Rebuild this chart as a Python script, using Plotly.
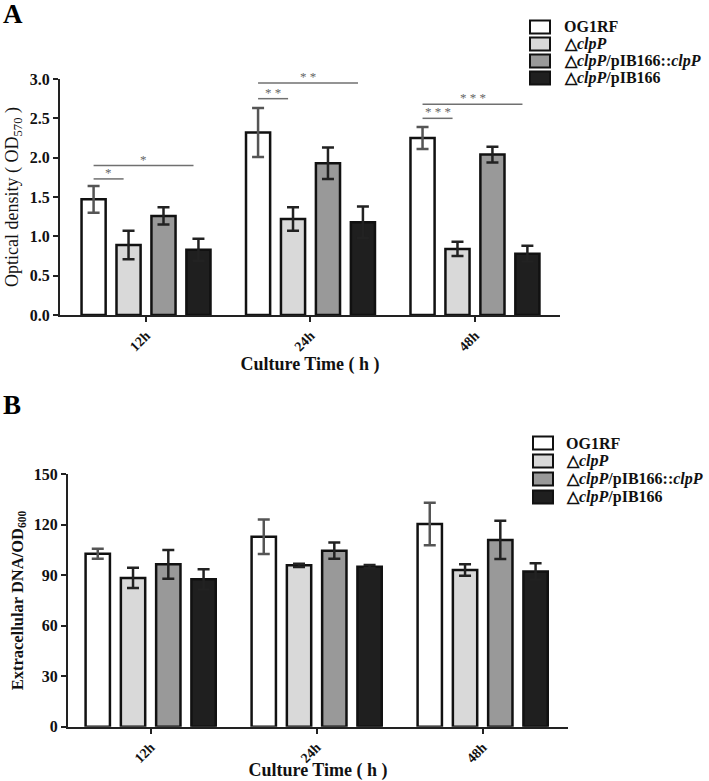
import plotly.graph_objects as go

# ---------------- data ----------------
categories = ["12h", "24h", "48h"]
series_names = ["OG1RF", "△<i>clpP</i>", "△<i>clpP</i>/pIB166::<i>clpP</i>", "△<i>clpP</i>/pIB166"]

# Panel A: optical density (OD570)
od_OG1RF = [1.47, 2.32, 2.25]
od_clpP = [0.89, 1.22, 0.84]
od_comp = [1.26, 1.93, 2.04]
od_pIB166 = [0.83, 1.18, 0.78]
od_err_OG1RF = [0.17, 0.31, 0.14]
od_err_clpP = [0.18, 0.15, 0.09]
od_err_comp = [0.11, 0.20, 0.10]
od_err_pIB166 = [0.14, 0.20, 0.10]

# Panel B: extracellular DNA / OD600
edna_OG1RF = [102.8, 112.9, 120.5]
edna_clpP = [88.4, 95.9, 93.1]
edna_comp = [96.5, 104.6, 111.0]
edna_pIB166 = [87.6, 95.1, 92.3]
edna_err_OG1RF = [3.0, 10.3, 12.6]
edna_err_clpP = [6.0, 1.0, 3.4]
edna_err_comp = [8.5, 4.8, 11.4]
edna_err_pIB166 = [6.0, 1.0, 4.8]

# significance brackets in panel A: (category index, target bar index, y level, label)
sig_group = [0, 0, 1, 1, 2, 2]
sig_target = [1, 3, 1, 3, 1, 3]
sig_level = [1.73, 1.90, 2.75, 2.95, 2.50, 2.68]
sig_label = ["*", "*", "* *", "* *", "* * *", "* * *"]

# ---------------- styling ----------------
W, H = 709, 781
FONT = "Liberation Serif, Times New Roman, serif"
fills = ["#ffffff", "#d9d9d9", "#999999", "#1f1f1f"]
err_colors = ["#555555", "#222222", "#222222", "#222222"]
BARGAP = 0.15
NBARS = 4


def px_x(p):
    return p / W


def px_y(p):
    return 1 - p / H


od_vals = [od_OG1RF, od_clpP, od_comp, od_pIB166]
od_errs = [od_err_OG1RF, od_err_clpP, od_err_comp, od_err_pIB166]
edna_vals = [edna_OG1RF, edna_clpP, edna_comp, edna_pIB166]
edna_errs = [edna_err_OG1RF, edna_err_clpP, edna_err_comp, edna_err_pIB166]

fig = go.Figure()

for vals, errs, xa, ya in [(od_vals, od_errs, "x", "y"), (edna_vals, edna_errs, "x2", "y2")]:
    for i in range(NBARS):
        fig.add_trace(go.Bar(
            x=categories, y=vals[i], name=series_names[i],
            xaxis=xa, yaxis=ya, showlegend=False,
            marker=dict(color=fills[i], line=dict(color="#111111", width=2.5)),
            error_y=dict(type="data", array=errs[i], visible=True,
                         color=err_colors[i], thickness=2.5, width=6),
        ))

shapes = []
annotations = []

# significance lines (in category units of panel A)
slot = (1 - BARGAP) / NBARS
offsets = [-(1 - BARGAP) / 2 + slot * (k + 0.5) for k in range(NBARS)]
for g, t, lvl, lab in zip(sig_group, sig_target, sig_level, sig_label):
    x0 = g + offsets[0]
    x1 = g + offsets[t] - 0.03
    shapes.append(dict(type="line", xref="x", yref="y", x0=x0, x1=x1, y0=lvl, y1=lvl,
                       line=dict(color="#707070", width=1.5)))
    annotations.append(dict(xref="x", yref="y", x=(x0 + x1) / 2, y=lvl, text=lab,
                            showarrow=False, yanchor="bottom", yshift=-3,
                            font=dict(family=FONT, size=13, color="#666666")))

# manual legends (panel A and panel B)
legend_specs = [
    (530, 562, [27, 44, 61, 78]),
    (533, 564, [443, 461, 479, 497]),
]
for box_x, text_x, rows in legend_specs:
    for i, cy in enumerate(rows):
        shapes.append(dict(type="rect", xref="paper", yref="paper",
                           x0=px_x(box_x), x1=px_x(box_x + 20),
                           y0=px_y(cy + 6.5), y1=px_y(cy - 6.5),
                           fillcolor=fills[i], line=dict(color="#111111", width=2)))
        annotations.append(dict(xref="paper", yref="paper", x=px_x(text_x), y=px_y(cy),
                                text="<b>" + series_names[i] + "</b>", showarrow=False,
                                xanchor="left", yanchor="middle",
                                font=dict(family=FONT, size=16, color="#111111")))

# panel letters
annotations.append(dict(xref="paper", yref="paper", x=px_x(1), y=px_y(-3), text="<b>A</b>",
                        showarrow=False, xanchor="left", yanchor="top",
                        font=dict(family=FONT, size=27, color="#000")))
annotations.append(dict(xref="paper", yref="paper", x=px_x(1), y=px_y(388), text="<b>B</b>",
                        showarrow=False, xanchor="left", yanchor="top",
                        font=dict(family=FONT, size=27, color="#000")))

axis_common = dict(showline=True, linecolor="#222222", linewidth=2, ticks="outside",
                   ticklen=5, tickwidth=2, tickcolor="#222222", showgrid=False,
                   zeroline=False, automargin=False)
ytickfont = dict(family=FONT, size=16, color="#111111", weight="bold")
xtickfont = dict(family=FONT, size=14, color="#111111", weight="bold")
xtitle_font = dict(family=FONT, size=18, color="#111111")

fig.update_layout(
    width=W, height=H,
    margin=dict(l=0, r=0, t=0, b=0),
    paper_bgcolor="white", plot_bgcolor="white",
    barmode="group", bargap=BARGAP, bargroupgap=0.31,
    font=dict(family=FONT, color="#111111"),
    xaxis=dict(domain=[px_x(60), px_x(560)], anchor="y", range=[-0.523, 2.517],
               tickangle=-45, tickfont=xtickfont,
               title=dict(text="<b>Culture Time ( h )</b>", standoff=0, font=xtitle_font),
               **axis_common),
    yaxis=dict(domain=[px_y(315), px_y(79)], anchor="x", range=[0, 3],
               dtick=0.5, tickformat=".1f", tickfont=ytickfont,
               title=dict(text="Optical density ( OD<sub>570</sub> )", standoff=6,
                          font=dict(family=FONT, size=18, color="#111111")),
               **axis_common),
    xaxis2=dict(domain=[px_x(68), px_x(568)], anchor="y2", range=[-0.498, 2.514],
                tickangle=-45, tickfont=xtickfont,
                title=dict(text="<b>Culture Time ( h )</b>", standoff=0, font=xtitle_font),
                **axis_common),
    yaxis2=dict(domain=[px_y(726.7), px_y(474.3)], anchor="x2", range=[0, 150],
                dtick=30, tickfont=ytickfont,
                title=dict(text="<b>Extracellular DNA/OD<sub>600</sub></b>", standoff=6,
                           font=dict(family=FONT, size=16.5, color="#111111")),
                **axis_common),
    shapes=shapes,
    annotations=annotations,
)

fig.write_html("out.html", config={"displayModeBar": False},
               post_script="document.body.style.margin='0';")
